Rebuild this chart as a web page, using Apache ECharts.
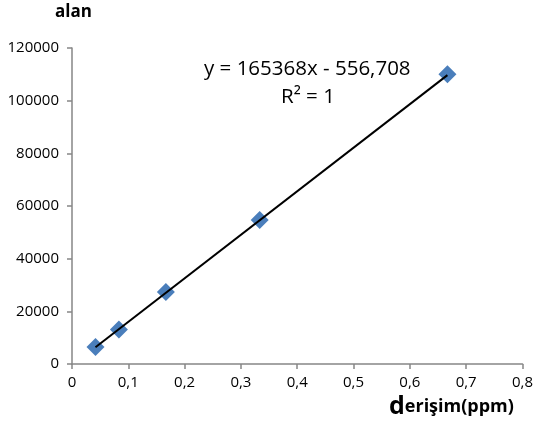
<!DOCTYPE html>
<html><head><meta charset="utf-8">
<script src="https://cdn.jsdelivr.net/npm/echarts@6/dist/echarts.min.js"></script>
<style>html,body{margin:0;padding:0;background:#fff}#c{width:536px;height:434px}</style>
</head><body><div id="c"></div>
<script>
var concentrations = [0.0417, 0.0833, 0.1667, 0.3333, 0.6667];
var areas = [6500, 13100, 27300, 54700, 110000];
var trendX = [0.0417, 0.6667];
var trendY = [6334, 109688];
var equationText = 'y = 165368x - 556,708';
var r2Text = 'R² = 1';

var font = '"Open Sans", "Liberation Sans", sans-serif';
var chart = echarts.init(document.getElementById('c'), null, {renderer: 'canvas'});
chart.setOption({
  animation: false,
  grid: {left: 72, right: 9, top: 48, bottom: 70},
  xAxis: {
    type: 'value', min: 0, max: 0.8, interval: 0.1,
    axisLine: {show: true, lineStyle: {color: '#868686', width: 1.5}},
    axisTick: {show: true, length: 5, lineStyle: {color: '#868686', width: 1.5}},
    splitLine: {show: false},
    axisLabel: {color: '#000', fontSize: 15, fontFamily: font, margin: 11,
      formatter: function (v) { return String(Math.round(v * 10) / 10).replace('.', ','); }}
  },
  yAxis: {
    type: 'value', min: 0, max: 120000, interval: 20000,
    axisLine: {show: true, lineStyle: {color: '#868686', width: 1.5}},
    axisTick: {show: true, length: 5, lineStyle: {color: '#868686', width: 1.5}},
    splitLine: {show: false},
    axisLabel: {color: '#000', fontSize: 15, fontFamily: font, margin: 13,
      formatter: function (v) { return String(v); }}
  },
  series: [
    {
      type: 'scatter',
      data: concentrations.map(function (x, i) { return [x, areas[i]]; }),
      symbol: 'diamond', symbolSize: [18, 18],
      itemStyle: {color: '#4A7EBB', opacity: 1},
      z: 2
    },
    {
      type: 'line',
      data: trendX.map(function (x, i) { return [x, trendY[i]]; }),
      symbol: 'none',
      lineStyle: {color: '#000', width: 2},
      z: 3
    }
  ],
  graphic: [
    {type: 'text', left: 55, top: 4, style: {text: 'alan', font: 'bold 17px ' + font, fill: '#000'}},
    {type: 'text', left: 389, top: 394, style: {
      text: '{a|d}{b|erişim(ppm)}',
      rich: {a: {font: 'bold 25px ' + font, fill: '#000'}, b: {font: 'bold 18px ' + font, fill: '#000'}}
    }},
    {type: 'text', left: 204, top: 59, style: {text: equationText, font: '20.5px ' + font, fill: '#000'}},
    {type: 'text', left: 281, top: 87, style: {text: r2Text, font: '20.5px ' + font, fill: '#000'}}
  ]
});
</script>
</body></html>
